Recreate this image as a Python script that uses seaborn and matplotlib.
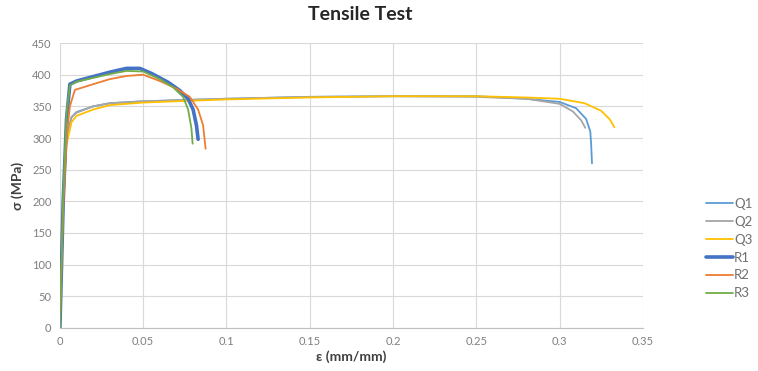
import matplotlib
matplotlib.use("Agg")
import matplotlib.pyplot as plt
import pandas as pd
import seaborn as sns

# strain (mm/mm) and stress (MPa)
q1_strain = [0, 0.002, 0.004, 0.007, 0.01, 0.02, 0.03, 0.05, 0.1, 0.15, 0.2, 0.25, 0.28, 0.3, 0.31, 0.316, 0.3185, 0.319, 0.3195]
q1_stress = [0, 200, 300, 333, 341, 350, 355, 358, 362, 365, 366, 366, 362, 357, 347, 330, 310, 290, 260]
q2_strain = [0, 0.002, 0.004, 0.007, 0.01, 0.02, 0.03, 0.05, 0.1, 0.15, 0.2, 0.25, 0.28, 0.3, 0.308, 0.313, 0.3155]
q2_stress = [0, 200, 300, 333, 340, 350, 355, 358, 362, 365, 366, 365, 362, 354, 342, 328, 316]
q3_strain = [0, 0.002, 0.004, 0.007, 0.01, 0.02, 0.03, 0.05, 0.1, 0.15, 0.2, 0.25, 0.28, 0.3, 0.315, 0.325, 0.33, 0.333]
q3_stress = [0, 190, 290, 325, 335, 345, 352, 356, 361, 364, 366, 366, 364, 362, 355, 343, 330, 317]
r1_strain = [0, 0.002, 0.004, 0.006, 0.01, 0.02, 0.03, 0.04, 0.048, 0.055, 0.065, 0.072, 0.077, 0.08, 0.082, 0.083]
r1_stress = [0, 200, 330, 385, 390, 397, 404, 410, 410, 402, 388, 375, 362, 345, 320, 298]
r2_strain = [0, 0.002, 0.004, 0.006, 0.009, 0.02, 0.03, 0.04, 0.05, 0.06, 0.07, 0.078, 0.083, 0.086, 0.0875]
r2_stress = [0, 190, 300, 350, 376, 385, 393, 398, 400, 390, 378, 365, 345, 320, 283]
r3_strain = [0, 0.002, 0.004, 0.006, 0.01, 0.02, 0.03, 0.04, 0.05, 0.06, 0.068, 0.074, 0.077, 0.079, 0.0797]
r3_stress = [0, 210, 340, 383, 389, 395, 401, 406, 405, 393, 380, 365, 345, 315, 291]

series = ["Q1", "Q2", "Q3", "R1", "R2", "R3"]
colors = ["#5B9BD5", "#A5A5A5", "#FFC000", "#4472C4", "#ED7D31", "#70AD47"]
widths = [1.3, 1.3, 1.3, 2.6, 1.3, 1.3]
x_ticks = [0, 0.05, 0.1, 0.15, 0.2, 0.25, 0.3, 0.35]
x_tick_labels = ["0", "0.05", "0.1", "0.15", "0.2", "0.25", "0.3", "0.35"]
y_ticks = [0, 50, 100, 150, 200, 250, 300, 350, 400, 450]

curves = {
    "Q1": (q1_strain, q1_stress),
    "Q2": (q2_strain, q2_stress),
    "Q3": (q3_strain, q3_stress),
    "R1": (r1_strain, r1_stress),
    "R2": (r2_strain, r2_stress),
    "R3": (r3_strain, r3_stress),
}

sns.set_style("white")
plt.rcParams["font.family"] = ["Lato", "DejaVu Sans"]

fig = plt.figure(figsize=(7.58, 3.71), dpi=100)
ax = fig.add_axes([0.079, 0.116, 0.769, 0.768])

handles = []
for name, color, lw in zip(series, colors, widths):
    xs, ys = curves[name]
    df = pd.DataFrame({"strain": xs, "stress": ys})
    sns.lineplot(data=df, x="strain", y="stress", sort=False, color=color,
                 linewidth=lw, ax=ax, label=name, legend=False)
    handles.append(ax.lines[-1])

ax.set_xlim(0, 0.35)
ax.set_ylim(0, 450)
ax.set_xticks(x_ticks)
ax.set_xticklabels(x_tick_labels)
ax.set_yticks(y_ticks)
ax.grid(True, color="#D9D9D9", linewidth=0.8)
ax.set_axisbelow(True)
for side in ["top", "right", "left"]:
    ax.spines[side].set_visible(False)
ax.spines["bottom"].set_color("#BFBFBF")
ax.tick_params(axis="both", length=0, labelsize=8, labelcolor="#7F7F7F", pad=6)

ax.set_xlabel("ε (mm/mm)", fontsize=10, fontweight="bold", color="#404040", labelpad=2)
ax.set_ylabel("σ (MPa)", fontsize=10, fontweight="bold", color="#404040", labelpad=6)
fig.suptitle("Tensile Test", x=0.475, y=0.985, fontsize=14, fontweight="bold", color="#262626")

fig.legend(handles=handles, labels=series, loc="center left",
           bbox_to_anchor=(0.925, 0.33), frameon=False, fontsize=9.5,
           labelcolor="#707070", handlelength=2.0, handletextpad=0.1,
           labelspacing=0.45, borderaxespad=0)

fig.savefig("out.png", dpi=100)
